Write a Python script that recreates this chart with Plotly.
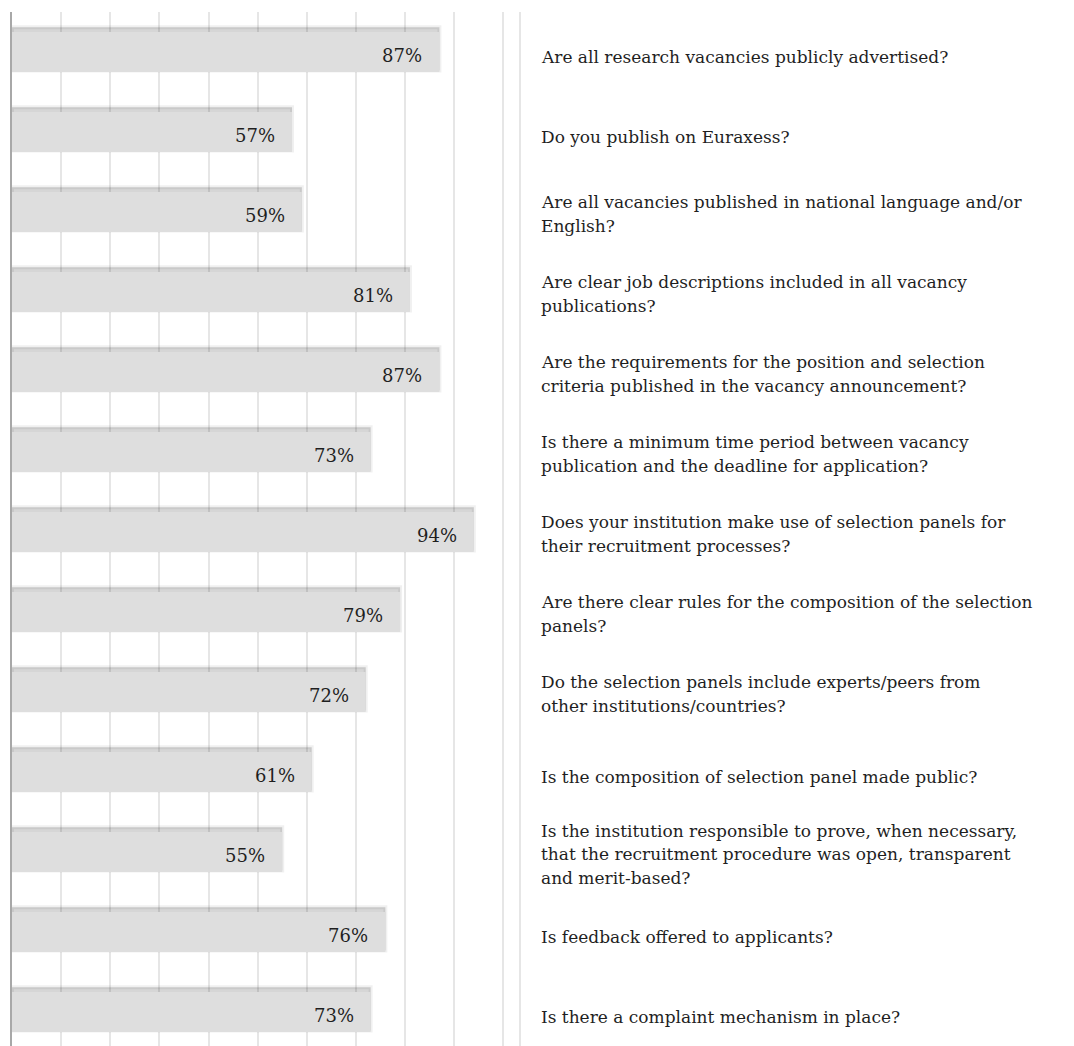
import plotly.graph_objects as go

# Survey results: share of institutions answering "yes" to each question
questions = [
    "Are all research vacancies publicly advertised?",
    "Do you publish on Euraxess?",
    "Are all vacancies published in national language and/or<br>English?",
    "Are clear job descriptions included in all vacancy<br>publications?",
    "Are the requirements for the position and selection<br>criteria published in the vacancy announcement?",
    "Is there a minimum time period between vacancy<br>publication and the deadline for application?",
    "Does your institution make use of selection panels for<br>their recruitment processes?",
    "Are there clear rules for the composition of the selection<br>panels?",
    "Do the selection panels include experts/peers from<br>other institutions/countries?",
    "Is the composition of selection panel made public?",
    "Is the institution responsible to prove, when necessary,<br>that the recruitment procedure was open, transparent<br>and merit-based?",
    "Is feedback offered to applicants?",
    "Is there a complaint mechanism in place?",
]
yes_share = [87, 57, 59, 81, 87, 73, 94, 79, 72, 61, 55, 76, 73]

FONT = "DejaVu Serif"
TEXT_COLOR = "#1f1f1f"
positions = list(range(len(questions)))

fig = go.Figure()

# soft drop shadow behind every bar (top edge and right side)
fig.add_trace(go.Bar(
    x=yes_share, y=positions, orientation="h",
    width=0.54, offset=-0.31,
    marker=dict(color="rgba(0,0,0,0.16)",
                line=dict(color="rgba(0,0,0,0.06)", width=4)),
    hoverinfo="skip", showlegend=False,
))
# the bars themselves
fig.add_trace(go.Bar(
    x=yes_share, y=positions, orientation="h",
    width=0.5, offset=-0.25,
    marker=dict(color="#dedede", line=dict(width=0)),
    hovertemplate="%{x}%<extra></extra>", showlegend=False,
))

annotations = []
for i, v in enumerate(yes_share):
    annotations.append(dict(
        x=v, y=i, xref="x", yref="y", text=f"{v}%",
        xanchor="right", yanchor="middle", xshift=-15, yshift=-3,
        showarrow=False, font=dict(family=FONT, size=18, color=TEXT_COLOR),
    ))

# question text beside each bar, one annotation per line
LINE_H = 23.5
for i, q in enumerate(questions):
    lines = q.split("<br>")
    n = len(lines)
    nudge = 5 if n == 1 else 2
    for k, line in enumerate(lines):
        off = (k - (n - 1) / 2) * LINE_H
        annotations.append(dict(
            x=0, y=i, xref="paper", yref="y", text=line,
            xanchor="left", yanchor="middle",
            xshift=527, yshift=-off - nudge,
            showarrow=False, font=dict(family=FONT, size=17, color=TEXT_COLOR),
        ))

fig.update_layout(
    width=1074, height=1046,
    margin=dict(l=12, r=554, t=12, b=0),
    paper_bgcolor="white", plot_bgcolor="white",
    barmode="overlay",
    annotations=annotations,
    shapes=[dict(type="line", xref="paper", yref="paper",
                 x0=1, x1=1, y0=0, y1=1,
                 line=dict(color="#e6e6e6", width=2), layer="below")],
    xaxis=dict(range=[0, 103.4], dtick=10, showgrid=True, gridcolor="#e6e6e6",
               gridwidth=2, showticklabels=False, zeroline=False, showline=False,
               fixedrange=True),
    yaxis=dict(range=[12.425, -0.5], showgrid=False, showticklabels=False,
               zeroline=False, showline=True, linecolor="#a8a8a8", linewidth=2,
               layer="above traces", fixedrange=True),
)

fig.write_html("out.html")
